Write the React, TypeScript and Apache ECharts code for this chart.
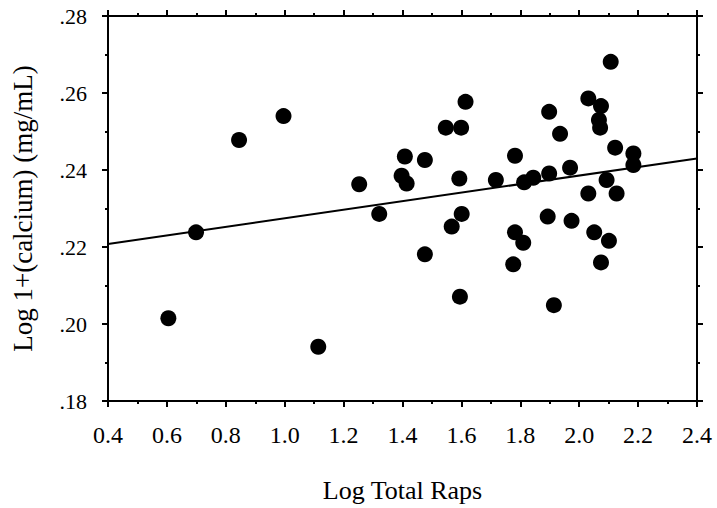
import React, { useEffect, useRef } from "react";
import * as echarts from "echarts";

const logTotalRaps = [
  0.605, 0.699, 0.845, 0.996, 1.114, 1.253, 1.321, 1.397, 1.408, 1.414,
  1.476, 1.476, 1.547, 1.567, 1.593, 1.595, 1.599, 1.601, 1.614, 1.717,
  1.776, 1.782, 1.782, 1.81, 1.813, 1.844, 1.893, 1.898, 1.898, 1.914,
  1.935, 1.969, 1.974, 2.031, 2.031, 2.051, 2.067, 2.071, 2.074, 2.074,
  2.093, 2.101, 2.107, 2.122, 2.127, 2.184, 2.184,
];
const logCalcium = [
  0.2015, 0.2238, 0.2478, 0.254, 0.1941, 0.2363, 0.2286, 0.2385, 0.2435, 0.2365,
  0.2426, 0.2181, 0.251, 0.2253, 0.2378, 0.2071, 0.251, 0.2286, 0.2577, 0.2374,
  0.2155, 0.2437, 0.2238, 0.2211, 0.2368, 0.238, 0.2279, 0.2391, 0.2551, 0.2049,
  0.2494, 0.2406, 0.2268, 0.2586, 0.2339, 0.2238, 0.253, 0.251, 0.2566, 0.216,
  0.2374, 0.2216, 0.2681, 0.2458, 0.2339, 0.2443, 0.2413,
];
const fitX = [0.4, 2.4];
const fitY = [0.2208, 0.243];

const FONT = "'Liberation Serif', 'Times New Roman', serif";

export default function App() {
  const ref = useRef<HTMLDivElement>(null);
  useEffect(() => {
    if (!ref.current) return;
    const chart = echarts.init(ref.current, undefined, { renderer: "svg" });
    const xCommon = {
      type: "value" as const,
      min: 0.4,
      max: 2.4,
      interval: 0.2,
      splitLine: { show: false },
      axisLine: { show: true, lineStyle: { color: "#000", width: 2 } },
      axisTick: { show: true, inside: false, length: 6, lineStyle: { color: "#000", width: 2 } },
      minorTick: { show: true, splitNumber: 2, length: 3, lineStyle: { color: "#000", width: 2 } },
    };
    const yCommon = {
      type: "value" as const,
      min: 0.18,
      max: 0.28,
      interval: 0.02,
      splitLine: { show: false },
      axisLine: { show: true, lineStyle: { color: "#000", width: 2 } },
      axisTick: { show: true, inside: false, length: 6, lineStyle: { color: "#000", width: 2 } },
      minorTick: { show: true, splitNumber: 2, length: 3, lineStyle: { color: "#000", width: 2 } },
    };
    chart.setOption({
      animation: false,
      backgroundColor: "#fff",
      grid: { left: 108, right: 20, top: 16, bottom: 107 },
      xAxis: [
        {
          ...xCommon,
          position: "bottom",
          name: "Log Total Raps",
          nameLocation: "middle",
          nameGap: 76,
          nameTextStyle: { fontFamily: FONT, fontSize: 26, color: "#000" },
          axisLabel: {
            fontFamily: FONT,
            fontSize: 24,
            color: "#000",
            margin: 22,
            formatter: (v: number) => v.toFixed(1),
          },
        },
        { ...xCommon, position: "top", axisLabel: { show: false } },
      ],
      yAxis: [
        {
          ...yCommon,
          position: "left",
          name: "Log 1+(calcium) (mg/mL)",
          nameLocation: "middle",
          nameGap: 72,
          nameTextStyle: { fontFamily: FONT, fontSize: 27, color: "#000" },
          axisLabel: {
            fontFamily: FONT,
            fontSize: 22,
            color: "#000",
            margin: 21,
            formatter: (v: number) => v.toFixed(2).replace(/^0/, ""),
          },
        },
        { ...yCommon, position: "right", axisLabel: { show: false } },
      ],
      series: [
        {
          type: "line",
          xAxisIndex: 0,
          yAxisIndex: 0,
          data: fitX.map((x, i) => [x, fitY[i]]),
          showSymbol: false,
          symbol: "none",
          lineStyle: { color: "#000", width: 2 },
          z: 2,
        },
        {
          type: "scatter",
          xAxisIndex: 0,
          yAxisIndex: 0,
          data: logTotalRaps.map((x, i) => [x, logCalcium[i]]),
          symbol: "circle",
          symbolSize: 16,
          itemStyle: { color: "#000", opacity: 1 },
          z: 3,
        },
      ],
    });
    return () => chart.dispose();
  }, []);
  return (
    <div
      ref={ref}
      style={{ position: "absolute", left: 0, top: 0, width: 717, height: 508 }}
    />
  );
}
